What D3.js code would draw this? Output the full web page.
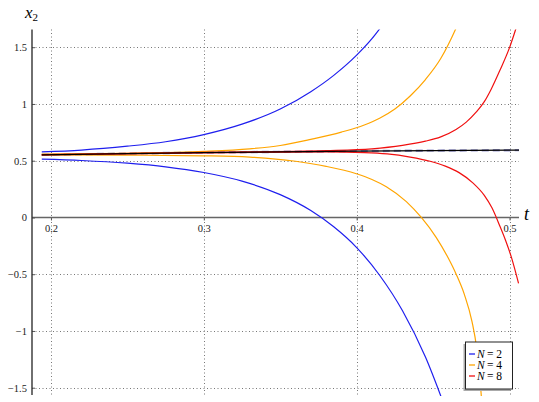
<!DOCTYPE html>
<html><head><meta charset="utf-8">
<script src="https://cdn.jsdelivr.net/npm/d3@7"></script>
<style>body{margin:0;background:#fff}svg{display:block}</style>
</head><body><svg id="c" width="539" height="402"></svg>
<script>
// ---- data ----
const xTicks = [0.2, 0.3, 0.4, 0.5];
const xTickLabels = ["0.2", "0.3", "0.4", "0.5"];
const yTicks = [1.5, 1, 0.5, 0, -0.5, -1, -1.5];
const yTickLabels = ["1.5", "1", "0.5", "0", "\u22120.5", "\u22121", "\u22121.5"];
const legendLabels = ["2", "4", "8"];

const blueUpperT = [0.194, 0.22, 0.25, 0.275, 0.3, 0.325, 0.35, 0.37, 0.385, 0.4, 0.41, 0.418];
const blueUpperY = [0.578, 0.594, 0.628, 0.667, 0.73, 0.822, 0.955, 1.108, 1.252, 1.43, 1.575, 1.715];
const blueLowerT = [0.194, 0.22, 0.25, 0.275, 0.3, 0.325, 0.35, 0.37, 0.385, 0.4, 0.415, 0.43, 0.445, 0.458];
const blueLowerY = [0.514, 0.502, 0.478, 0.446, 0.396, 0.32, 0.201, 0.061, -0.082, -0.265, -0.509, -0.822, -1.23, -1.68];
const orangeUpperT = [0.194, 0.25, 0.3, 0.33, 0.35, 0.37, 0.39, 0.405, 0.415, 0.425, 0.435, 0.445, 0.455, 0.4647, 0.468];
const orangeUpperY = [0.558, 0.565, 0.582, 0.605, 0.634, 0.688, 0.752, 0.815, 0.874, 0.955, 1.07, 1.215, 1.40, 1.658, 1.76];
const orangeLowerT = [0.194, 0.25, 0.3, 0.33, 0.36, 0.38, 0.3998, 0.41, 0.4194, 0.4325, 0.4423, 0.452, 0.46, 0.4651, 0.4705, 0.4755, 0.4785, 0.481, 0.482];
const orangeLowerY = [0.552, 0.549, 0.543, 0.532, 0.495, 0.45, 0.385, 0.335, 0.271, 0.14, 0.0, -0.175, -0.36, -0.5, -0.68, -0.92, -1.15, -1.48, -1.65];
const redUpperT = [0.194, 0.3, 0.38, 0.41, 0.43, 0.445, 0.455, 0.465, 0.4717, 0.478, 0.4835, 0.488, 0.4935, 0.5, 0.5039, 0.507];
const redUpperY = [0.553, 0.573, 0.589, 0.605, 0.635, 0.672, 0.71, 0.775, 0.84, 0.925, 1.02, 1.13, 1.29, 1.496, 1.652, 1.78];
const redLowerT = [0.194, 0.3, 0.38, 0.405, 0.42, 0.435, 0.448, 0.458, 0.467, 0.476, 0.4835, 0.4885, 0.4935, 0.4975, 0.5011, 0.5059];
const redLowerY = [0.550, 0.568, 0.578, 0.572, 0.56, 0.532, 0.495, 0.452, 0.395, 0.305, 0.195, 0.085, -0.07, -0.205, -0.345, -0.58];
const exactT = [0.194, 0.25, 0.30, 0.35, 0.40, 0.45, 0.5062];
const exactY = [0.551, 0.563, 0.572, 0.578, 0.584, 0.589, 0.593];

// ---- layout ----
const SERIF = "serif";
const svg = d3.select("#c");
const L = 32, R = 519, T = 29.5, B = 396;
const x = d3.scaleLinear().domain([0.1876, 0.5062]).range([L, R]);
const y = d3.scaleLinear().domain([-1.573, 1.656]).range([B, T]);

svg.append("defs").append("clipPath").attr("id", "clip")
  .append("rect").attr("x", L).attr("y", T).attr("width", R - L).attr("height", B - T);

// grid
const grid = svg.append("g").attr("stroke", "#777").attr("stroke-width", 1).attr("stroke-dasharray", "1,2.5");
grid.selectAll("line.v").data(xTicks).join("line").attr("class", "v")
  .attr("x1", d => Math.round(x(d)) + 0.5).attr("x2", d => Math.round(x(d)) + 0.5).attr("y1", T).attr("y2", B);
grid.selectAll("line.h").data(yTicks).join("line").attr("class", "h")
  .attr("y1", d => Math.round(y(d)) + 0.5).attr("y2", d => Math.round(y(d)) + 0.5).attr("x1", L).attr("x2", R);

// axes
const xAxis = d3.axisBottom(x).tickValues(xTicks).tickFormat((d, i) => xTickLabels[i]).tickSize(3).tickPadding(4);
const gx = svg.append("g").attr("transform", `translate(0,${y(0)})`).call(xAxis).attr("font-family", SERIF);
gx.select(".domain").remove();
gx.append("line").attr("x1", L).attr("x2", R).attr("stroke", "#666").attr("stroke-width", 1.6);
gx.selectAll(".tick line").attr("stroke", "#555");
gx.selectAll(".tick text").attr("font-size", 10.5).attr("fill", "#222").attr("font-family", SERIF);

const yAxis = d3.axisLeft(y).tickValues(yTicks).tickFormat((d, i) => yTickLabels[i]).tickSize(-3).tickPadding(5);
const gy = svg.append("g").attr("transform", `translate(${L},0)`).call(yAxis).attr("font-family", SERIF);
gy.select(".domain").remove();
gy.append("line").attr("y1", T).attr("y2", B - 1).attr("stroke", "#333").attr("stroke-width", 1.4);
gy.selectAll(".tick line").attr("stroke", "#555");
gy.selectAll(".tick text").attr("font-size", 10.5).attr("fill", "#222").attr("font-family", SERIF);

// labels
svg.append("text").attr("x", 524).attr("y", 220).attr("font-family", SERIF).attr("font-size", 18)
  .attr("font-style", "italic").text("t");
const yl = svg.append("text").attr("x", 25).attr("y", 18).attr("font-family", SERIF).attr("font-size", 17);
yl.append("tspan").attr("font-style", "italic").text("x");
yl.append("tspan").attr("font-size", 11).attr("dy", 3).text("2");

// curves
const line = d3.line().x(d => x(d[0])).y(d => y(d[1])).curve(d3.curveMonotoneX);
const zip = (a, b) => a.map((v, i) => [v, b[i]]);
const plot = svg.append("g").attr("clip-path", "url(#clip)").attr("fill", "none");

plot.append("path").attr("d", line(zip(exactT, exactY))).attr("stroke", "#8080c0").attr("stroke-width", 2.4)
  .attr("stroke-dasharray", "7,4").attr("opacity", 0.8);
const series = [
  [blueUpperT, blueUpperY, "#1f1fee"], [blueLowerT, blueLowerY, "#1f1fee"],
  [orangeUpperT, orangeUpperY, "#ffa500"], [orangeLowerT, orangeLowerY, "#ffa500"],
  [redUpperT, redUpperY, "#f01010"], [redLowerT, redLowerY, "#f01010"]
];
series.forEach(s => plot.append("path").attr("d", line(zip(s[0], s[1]))).attr("stroke", s[2]).attr("stroke-width", 1.2));
plot.append("path").attr("d", line(zip(exactT, exactY))).attr("stroke", "#000").attr("stroke-width", 1.3);

// legend
const lg = svg.append("g");
lg.append("rect").attr("x", 463.5).attr("y", 344).attr("width", 47).attr("height", 47).attr("fill", "#aaa");
lg.append("rect").attr("x", 465.5).attr("y", 342).attr("width", 47).attr("height", 47).attr("fill", "#fff").attr("stroke", "#222").attr("stroke-width", 1);
const lc = ["#1f1fee", "#ffa500", "#f01010"];
legendLabels.forEach((l, i) => {
  const yy = 354 + i * 11;
  lg.append("line").attr("x1", 469).attr("x2", 475).attr("y1", yy).attr("y2", yy).attr("stroke", lc[i]).attr("stroke-width", 1.3);
  lg.append("text").attr("x", 477).attr("y", yy + 3.5).attr("font-family", SERIF).attr("font-size", 11.5)
    .attr("font-style", "italic").text("N");
  lg.append("text").attr("x", 487).attr("y", yy + 3.5).attr("font-family", SERIF).attr("font-size", 11.5)
    .text("= " + l);
});
</script></body></html>
